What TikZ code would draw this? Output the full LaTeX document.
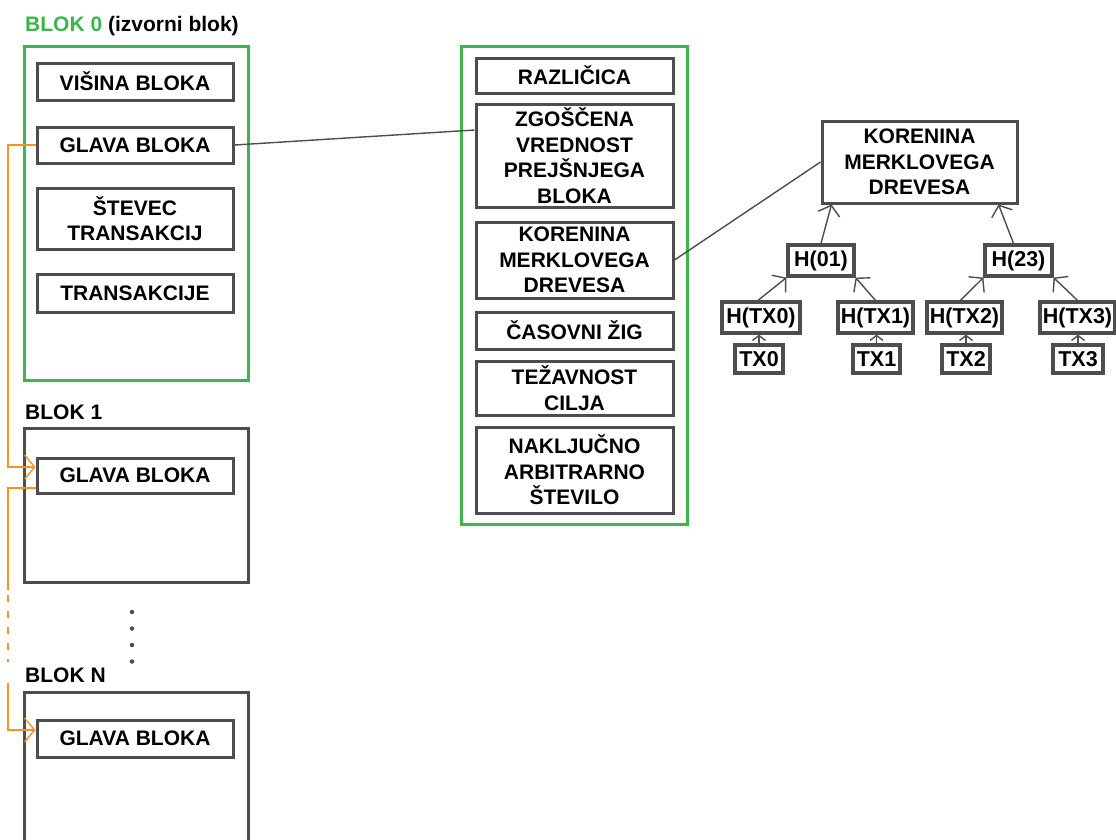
\documentclass[tikz,border=0pt]{standalone}
\usepackage{fontspec}
\setmainfont{Liberation Sans}
\usetikzlibrary{arrows.meta,calc}
\definecolor{gbox}{HTML}{4D4D4D}
\definecolor{grn}{HTML}{3CB54B}
\definecolor{org}{HTML}{F7941D}
\tikzset{
  fbox/.style={draw=gbox, line width=3pt, fill=white, inner sep=0pt, align=center,
    font=\fontsize{21}{25.5}\selectfont\bfseries},
  tbox/.style={draw=gbox, line width=3.2pt, fill=white, inner sep=0pt, align=center,
    font=\fontsize{21.5}{25}\selectfont\bfseries},
  greenbox/.style={draw=grn, line width=3pt, inner sep=0pt},
  graybox/.style={draw=gbox, line width=3pt, inner sep=0pt},
  lbl/.style={anchor=base west, inner sep=0pt, font=\fontsize{21}{25}\selectfont\bfseries},
  conn/.style={draw=gbox, line width=1.4pt},
  tarr/.style={draw=gbox, line width=1.4pt, -{Straight Barb[length=9pt,width=22pt,line width=1.4pt]}},
  sarr/.style={draw=gbox, line width=1.4pt, -{Straight Barb[length=5pt,width=13pt,line width=1.4pt]}},
  oline/.style={draw=org, line width=1.4pt},
  oarr/.style={draw=org, line width=1.4pt, -{Straight Barb[length=10pt,width=24pt,line width=1.4pt]}},
  dotc/.style={fill=gbox, draw=none, circle, minimum size=4.5pt, inner sep=0pt}
}
\begin{document}
\begin{tikzpicture}[x=1pt,y=-1pt]
\useasboundingbox (0,0) rectangle (1116,839);
% Block 0
\node[lbl] (t0) at (25,31) {\textcolor{grn}{BLOK 0} (izvorni blok)};
\node[greenbox, minimum width=224pt, minimum height=334pt] (b0) at (136,213) {};
\node[fbox, minimum width=196pt, minimum height=37pt] (visina) at (135,81.5) {VIŠINA BLOKA};
\node[fbox, minimum width=196pt, minimum height=36pt] (glava0) at (135,145) {GLAVA BLOKA};
\node[fbox, minimum width=196pt, minimum height=61pt] (stevec) at (135,218.5) {ŠTEVEC\\TRANSAKCIJ};
\node[fbox, minimum width=196pt, minimum height=38pt] (trans) at (135,293) {TRANSAKCIJE};
% Block 1
\node[lbl] (t1) at (25,419) {BLOK 1};
\node[graybox, minimum width=224pt, minimum height=154pt] (b1) at (136,505) {};
\node[fbox, minimum width=196pt, minimum height=35pt] (glava1) at (135,475.5) {GLAVA BLOKA};
% dots
\node[dotc] (d1) at (132,612) {};
\node[dotc] (d2) at (132,628.5) {};
\node[dotc] (d3) at (132,645) {};
\node[dotc] (d4) at (132,661.5) {};
% Block N
\node[lbl] (tn) at (25,682) {BLOK N};
\draw[gbox, line width=3pt] (24,860) -- (24,692) -- (248,692) -- (248,860);
\coordinate (bn) at (136,692);
\node[fbox, minimum width=196pt, minimum height=37pt] (glavaN) at (135,738.5) {GLAVA BLOKA};
% Header
\node[greenbox, minimum width=226pt, minimum height=478pt] (hdr) at (574,285) {};
\node[fbox, minimum width=197pt, minimum height=35pt] (razl) at (574.5,75.5) {RAZLIČICA};
\node[fbox, minimum width=197pt, minimum height=103pt] (zgosc) at (574.5,155.5) {ZGOŠČENA\\VREDNOST\\PREJŠNJEGA\\BLOKA};
\node[fbox, minimum width=197pt, minimum height=76pt] (koren) at (574.5,260) {KORENINA\\MERKLOVEGA\\DREVESA};
\node[fbox, minimum width=197pt, minimum height=37pt] (casov) at (574.5,330.5) {ČASOVNI ŽIG};
\node[fbox, minimum width=197pt, minimum height=54pt] (tezav) at (574.5,388) {TEŽAVNOST\\CILJA};
\node[fbox, minimum width=197pt, minimum height=86pt] (naklj) at (574.5,470) {NAKLJUČNO\\ARBITRARNO\\ŠTEVILO};
% Merkle tree
\node[fbox, minimum width=195pt, minimum height=82pt] (root) at (919.5,162) {KORENINA\\MERKLOVEGA\\DREVESA};
\node[tbox, minimum width=66pt, minimum height=31pt] (h01) at (821,260.5) {H(01)};
\node[tbox, minimum width=67pt, minimum height=31pt] (h23) at (1018.5,260.5) {H(23)};
\node[tbox, minimum width=78pt, minimum height=31pt] (htx0) at (761,317.5) {H(TX0)};
\node[tbox, minimum width=75pt, minimum height=31pt] (htx1) at (875.5,317.5) {H(TX1)};
\node[tbox, minimum width=75pt, minimum height=31pt] (htx2) at (964.5,317.5) {H(TX2)};
\node[tbox, minimum width=75pt, minimum height=31pt] (htx3) at (1077.5,317.5) {H(TX3)};
\node[tbox, minimum width=48pt, minimum height=28pt] (tx0) at (759,359) {TX0};
\node[tbox, minimum width=47pt, minimum height=28pt] (tx1) at (876.5,359) {TX1};
\node[tbox, minimum width=48pt, minimum height=28pt] (tx2) at (966,359) {TX2};
\node[tbox, minimum width=50pt, minimum height=28pt] (tx3) at (1078,359) {TX3};
% connectors
\draw[conn] (glava0.east) -- ([yshift=25.5pt]zgosc.west);
\draw[conn] (koren.east) -- (root.west);
\draw[tarr] (h01.north) -- ([xshift=11pt]root.south west);
\draw[tarr] ([xshift=-5pt]h23.north) -- ([xshift=-20pt]root.south east);
\draw[tarr] ([xshift=-3pt]htx0.north) -- (h01.south west);
\draw[tarr] (htx1.north) -- (h01.south east);
\draw[tarr] ([xshift=-4pt]htx2.north) -- (h23.south west);
\draw[tarr] (htx3.north) -- (h23.south east);
\draw[sarr] (tx0.north) -- (tx0.north |- htx0.south);
\draw[sarr] (tx1.north) -- (tx1.north |- htx1.south);
\draw[sarr] (tx2.north) -- (tx2.north |- htx2.south);
\draw[sarr] (tx3.north) -- (tx3.north |- htx3.south);
% orange chain
\draw[oarr] (glava0.west) -- (8,145) -- (8,467) -- ([yshift=8.5pt]glava1.west);
\coordinate (o1) at (8,590);
\coordinate (o2) at (8,662);
\coordinate (o3) at (8,683);
\draw[oline] ([yshift=-12.5pt]glava1.west) -- (8,488) -- (o1);
\draw[oline, dash pattern=on 7pt off 9pt] ([yshift=-5pt]o1) -- (o2);
\draw[oarr] (o3) -- (8,730) -- ([yshift=8.5pt]glavaN.west);
\end{tikzpicture}
\end{document}
